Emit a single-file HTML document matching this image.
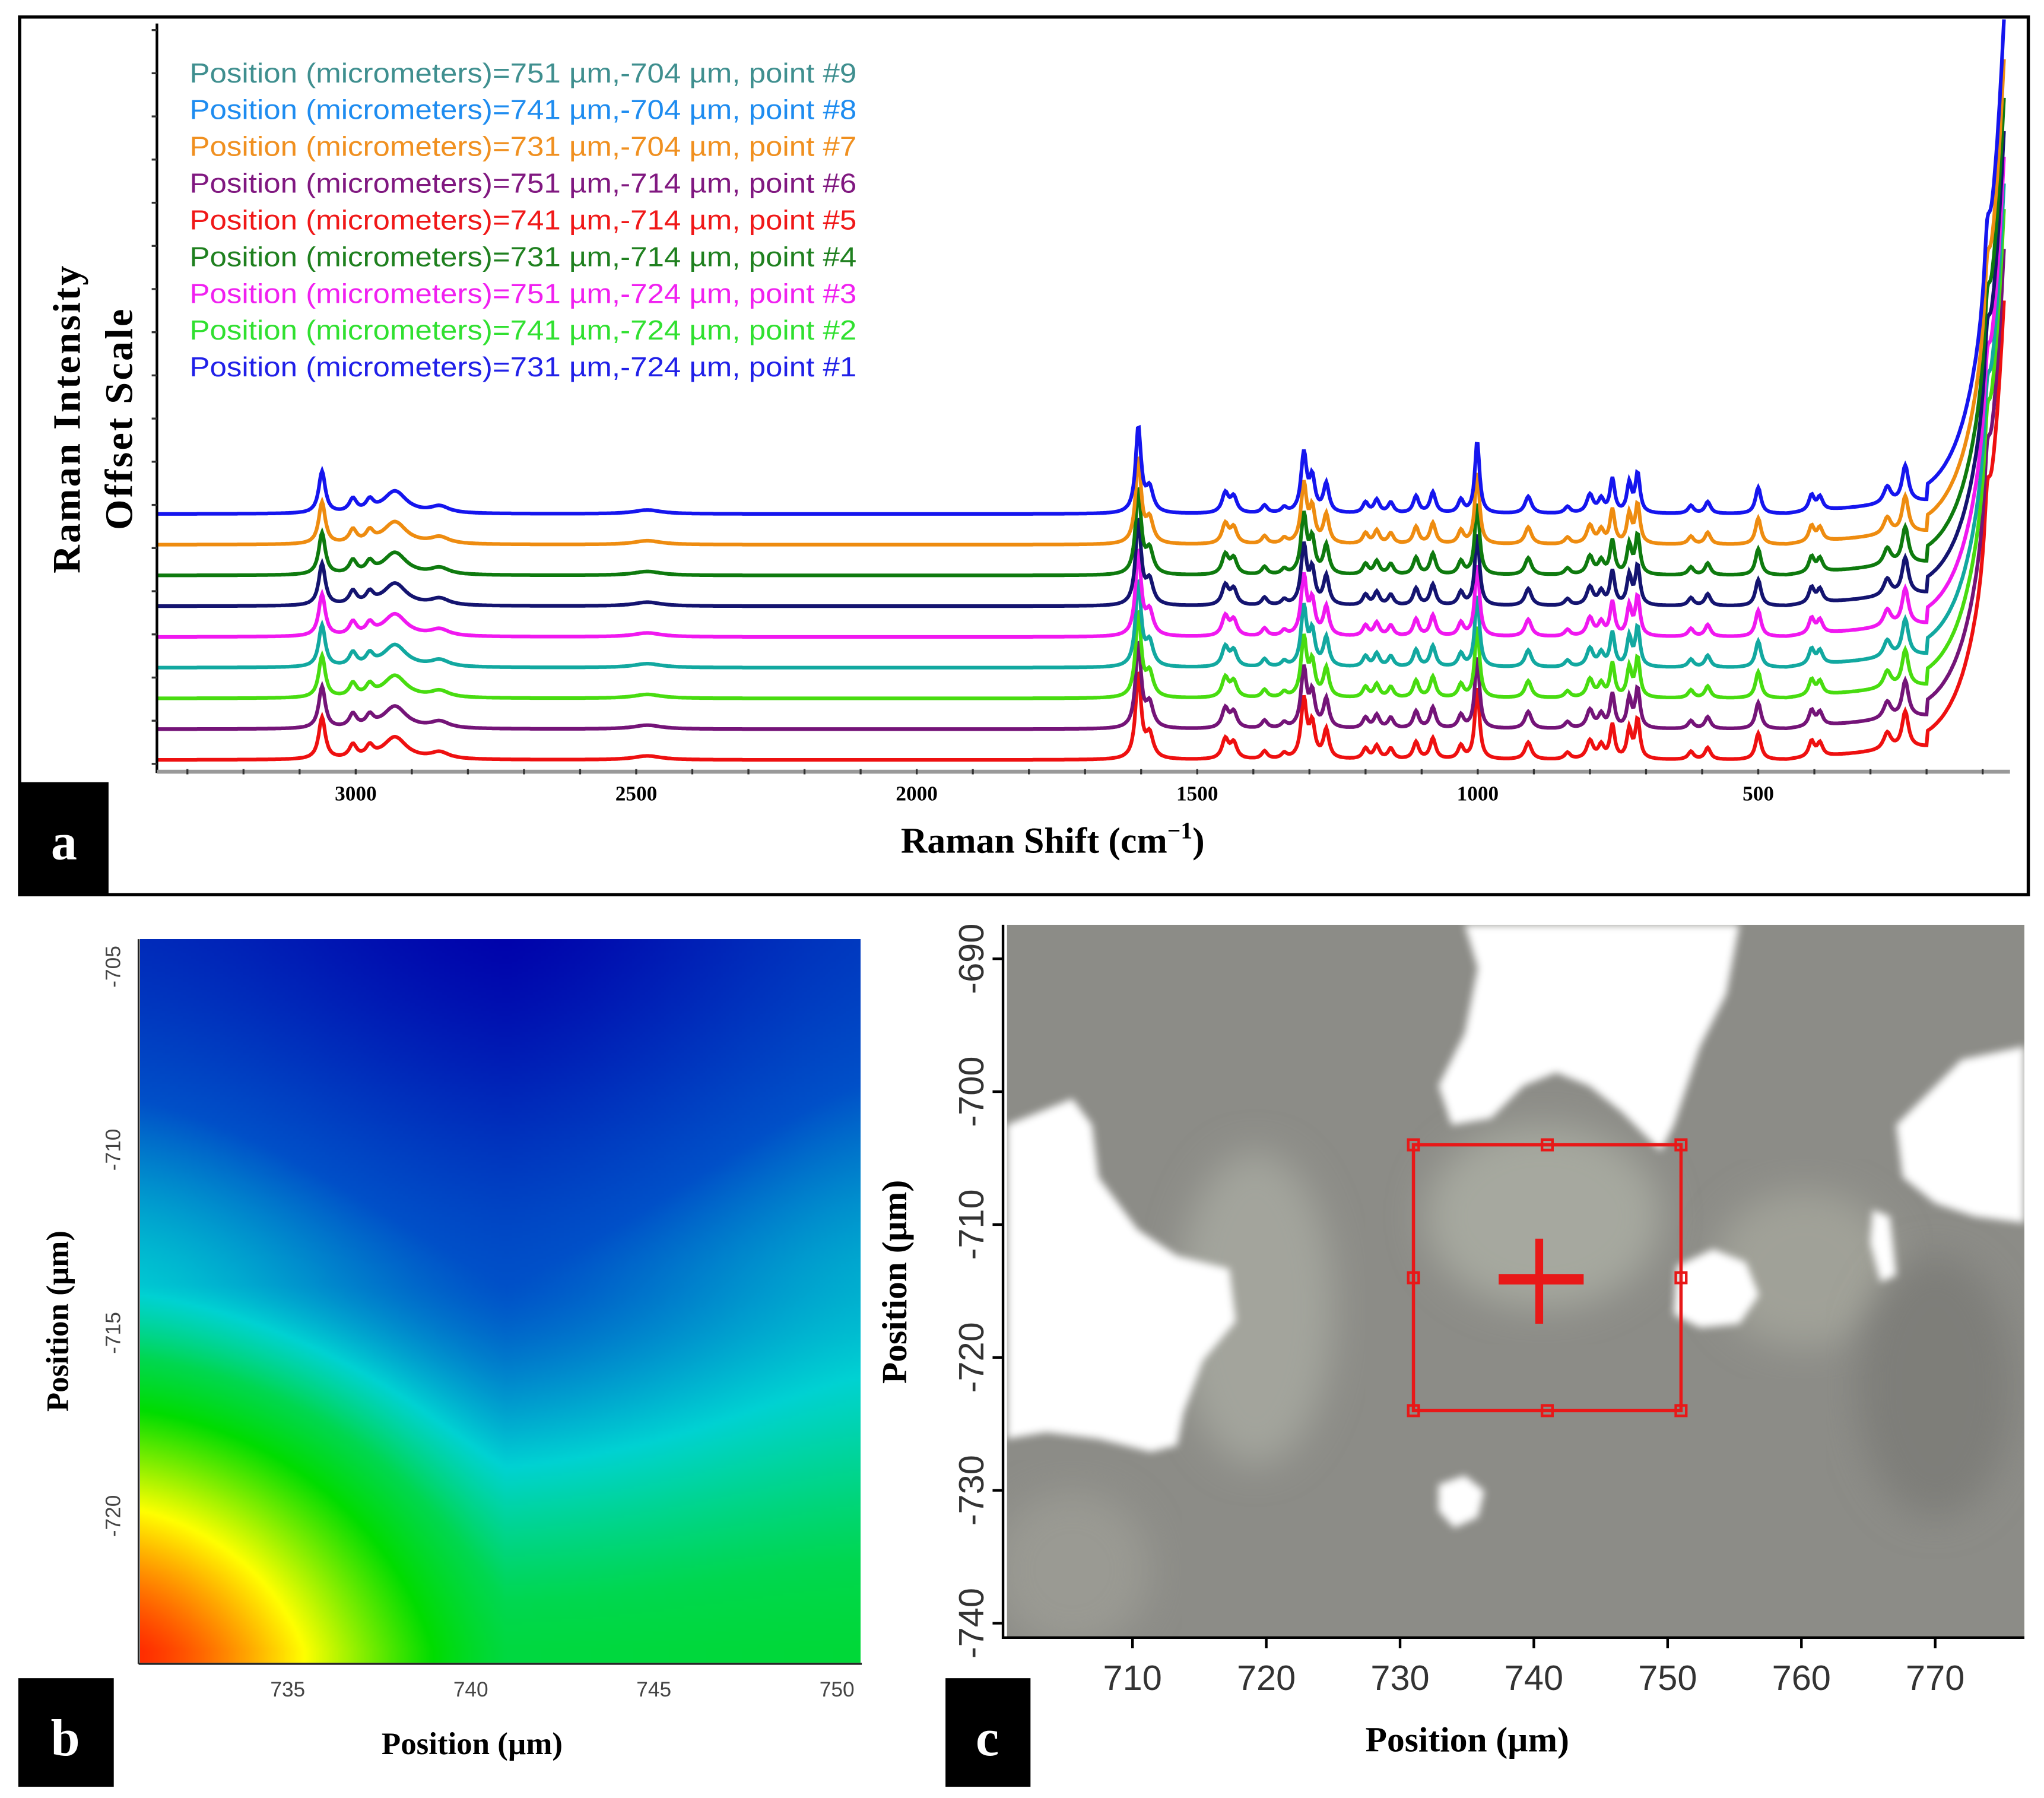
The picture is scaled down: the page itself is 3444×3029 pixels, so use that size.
<!DOCTYPE html>
<html><head><meta charset="utf-8">
<style>
html,body{margin:0;padding:0;background:#fff;overflow:hidden;}
#wrap{position:relative;width:3444px;height:3029px;overflow:hidden;}
svg{position:absolute;left:0;top:0;}
#heat{position:absolute;left:236px;top:1582px;width:1214px;height:1219px;}
</style></head><body>
<div id="wrap">
<svg id="main" width="3444" height="3029" viewBox="0 0 1563 1374.6" preserveAspectRatio="none">
<defs>
<filter id="blur" x="-20%" y="-20%" width="140%" height="140%"><feGaussianBlur stdDeviation="3"/></filter>
<filter id="blur2" x="-20%" y="-20%" width="140%" height="140%"><feGaussianBlur stdDeviation="14"/></filter>
<clipPath id="photoClip"><rect x="770" y="707" width="778" height="545"/></clipPath>
<clipPath id="plotClip"><rect x="120" y="14" width="1430" height="580"/></clipPath>
</defs>
<!-- panel a -->
<rect x="15" y="13" width="1536" height="671" fill="#fff" stroke="#000" stroke-width="2.5"/>
<g id="spectra" clip-path="url(#plotClip)"></g>
<line x1="120" y1="18" x2="120" y2="591" stroke="#000" stroke-width="2"/>
<g id="yticksA"></g>
<line x1="120" y1="590" x2="1537" y2="590" stroke="#999" stroke-width="3"/>
<g id="xticksA" font-family="Liberation Serif, serif" font-weight="bold" font-size="16" text-anchor="middle"></g>
<g id="legend" font-family="Liberation Sans, sans-serif" font-size="21"></g>
<text transform="translate(61,320) rotate(-90)" text-anchor="middle" font-family="Liberation Serif, serif" font-weight="bold" font-size="30" letter-spacing="1.5">Raman Intensity</text>
<text transform="translate(101,320) rotate(-90)" text-anchor="middle" font-family="Liberation Serif, serif" font-weight="bold" font-size="30" letter-spacing="1.5">Offset Scale</text>
<text x="805" y="652" text-anchor="middle" font-family="Liberation Serif, serif" font-weight="bold" font-size="28">Raman Shift (cm<tspan dy="-11" font-size="18">−1</tspan><tspan dy="11">)</tspan></text>
<rect x="14" y="598" width="69" height="86" fill="#000"/>
<text x="49" y="657" text-anchor="middle" fill="#fff" font-family="Liberation Serif, serif" font-weight="bold" font-size="40">a</text>

<!-- panel b -->
<g id="panelB">
<line x1="106" y1="718" x2="106" y2="1272" stroke="#222" stroke-width="1.5"/>
<line x1="106" y1="1272" x2="659" y2="1272" stroke="#222" stroke-width="1.5"/>
<g id="bTicks" font-family="Liberation Sans, sans-serif" font-size="16" fill="#444"></g>
<g stroke="#ee1111" stroke-width="3.5">
<line x1="365" y1="993" x2="402" y2="993"/><line x1="383" y1="973" x2="383" y2="1014"/></g>
<text x="361" y="1341" text-anchor="middle" font-family="Liberation Serif, serif" font-weight="bold" font-size="24">Position (µm)</text>
<text transform="translate(52,1010) rotate(-90)" text-anchor="middle" font-family="Liberation Serif, serif" font-weight="bold" font-size="24">Position (µm)</text>
<rect x="14" y="1283" width="73" height="83" fill="#000"/>
<text x="50" y="1342" text-anchor="middle" fill="#fff" font-family="Liberation Serif, serif" font-weight="bold" font-size="40">b</text>
</g>

<!-- panel c -->
<g>
<g clip-path="url(#photoClip)">
<rect x="770" y="707" width="778" height="545" fill="#8c8c87"/>
<ellipse cx="960" cy="1000" rx="60" ry="120" fill="#a3a49c" filter="url(#blur2)"/>
<ellipse cx="1180" cy="930" rx="90" ry="70" fill="#a6a89f" filter="url(#blur2)"/>
<ellipse cx="1380" cy="970" rx="70" ry="60" fill="#a0a198" filter="url(#blur2)"/>
<ellipse cx="820" cy="1200" rx="60" ry="60" fill="#9a9a93" filter="url(#blur2)"/>
<ellipse cx="1480" cy="1060" rx="60" ry="100" fill="#7e7e79" filter="url(#blur2)"/>
<g fill="#ffffff" filter="url(#blur)">
<path d="M1120,707 L1330,707 L1320,760 L1300,800 L1280,860 L1270,880 L1240,850 L1215,830 L1190,820 L1165,830 L1140,855 L1110,860 L1100,830 L1120,790 L1130,740 Z"/>
<path d="M770,860 L820,840 L835,860 L840,900 L870,940 L900,960 L940,970 L945,1010 L920,1040 L905,1080 L900,1105 L880,1110 L840,1100 L800,1095 L770,1100 Z"/>
<path d="M1548,800 L1500,810 L1470,840 L1450,860 L1455,900 L1480,920 L1510,930 L1548,935 Z"/>
<path d="M1282,968 L1310,955 L1335,965 L1345,990 L1330,1012 L1300,1015 L1280,1005 Z"/>
<path d="M1432,925 L1445,930 L1450,975 L1438,980 L1430,950 Z"/>
<path d="M1100,1135 L1120,1128 L1135,1140 L1130,1160 L1112,1168 L1100,1155 Z"/>
</g>
</g>
<line x1="767" y1="707" x2="767" y2="1253" stroke="#000" stroke-width="2"/>
<line x1="767" y1="1252" x2="1548" y2="1252" stroke="#000" stroke-width="2"/>
<g id="cTicks" font-family="Liberation Sans, sans-serif" font-size="27" fill="#333"></g>
<g id="roi" stroke="#e81818" fill="none" stroke-width="2.5"></g>
<g stroke="#e81818">
<line x1="1146" y1="978" x2="1211" y2="978" stroke-width="8"/>
<line x1="1177" y1="947" x2="1177" y2="1012" stroke-width="6"/></g>
<text x="1122" y="1339" text-anchor="middle" font-family="Liberation Serif, serif" font-weight="bold" font-size="27">Position (µm)</text>
<text transform="translate(693,980) rotate(-90)" text-anchor="middle" font-family="Liberation Serif, serif" font-weight="bold" font-size="27">Position (µm)</text>
<rect x="723" y="1283" width="65" height="83" fill="#000"/>
<text x="755" y="1342" text-anchor="middle" fill="#fff" font-family="Liberation Serif, serif" font-weight="bold" font-size="40">c</text>
</g>
</svg>
<canvas id="heat" width="276" height="277"></canvas>
</div>
<script>
// ---- Panel a data ----
const seriesNames = ["point #1","point #2","point #3","point #4","point #5","point #6","point #7","point #8","point #9"];
const legendLabels = [
 "Position (micrometers)=751 µm,-704 µm, point #9",
 "Position (micrometers)=741 µm,-704 µm, point #8",
 "Position (micrometers)=731 µm,-704 µm, point #7",
 "Position (micrometers)=751 µm,-714 µm, point #6",
 "Position (micrometers)=741 µm,-714 µm, point #5",
 "Position (micrometers)=731 µm,-714 µm, point #4",
 "Position (micrometers)=751 µm,-724 µm, point #3",
 "Position (micrometers)=741 µm,-724 µm, point #2",
 "Position (micrometers)=731 µm,-724 µm, point #1"];
const legendColors = ["#3f8f8f","#1e8cf0","#f09020","#801880","#f01818","#1f801f","#f020f0","#30e030","#2020e8"];
// trace order top -> bottom
const traceColors = ["#1515ee","#ee8c10","#0e7a0e","#141470","#f018f0","#12a8a0","#48dc10","#741478","#ee1010"];
const traceOffsets = [0, 0.5, 1, 1.5, 2, 2.5, 3, 3.5, 4]; // offset units
const riseHeights = [361, 354, 348, 346, 350, 353, 357, 350, 334];
const peakCenters = [3060,3005,2975,2930,2850,2480,1605,1585,1450,1435,1380,1345,1310,1295,1270,1200,1180,1155,1110,1080,1030,1001,910,840,800,780,760,730,715,620,590,500,405,390,270,238,92];
const peakHeights = [32,10,8,17,5,3,65,18,15,12,6,4,45,25,22,8,10,8,13,16,10,55,13,5,14,10,26,22,30,6,9,20,12,10,13,28,40];
const peakWidths =  [7,8,8,25,20,30,6,8,7,7,6,6,6,6,6,6,6,6,6,6,6,5,7,6,7,6,5,5,5,6,6,6,6,6,8,7,6];
const xTickValues = [3000,2500,2000,1500,1000,500];

const NS="http://www.w3.org/2000/svg";
const xS = v => 1130 - (v-1000)*0.429;
const yBase = k => 393 + k*47;
function mk(tag, attrs, parent){const e=document.createElementNS(NS,tag);for(const k in attrs)e.setAttribute(k,attrs[k]);parent.appendChild(e);return e;}

const spectra=document.getElementById('spectra');
for(let s=traceColors.length-1;s>=0;s--){
  const b=yBase(traceOffsets[s]);
  let d="";
  for(let v=3354; v>=62; v-=2){
    let y=0;
    for(let p=0;p<peakCenters.length;p++){
      const dx=(v-peakCenters[p])/peakWidths[p];
      y+=peakHeights[p]/(1+dx*dx);
    }
    if(v<450) y+= (450-v)*0.04;
    if(v<200) y+= riseHeights[s]*Math.exp(-(v-62)/40);
    d+=(d?"L":"M")+xS(v).toFixed(1)+","+(b-y).toFixed(1);
  }
  const p=mk('path',{d:d,fill:'none',stroke:traceColors[s],'stroke-width':2.8},spectra);
  
  
}
const xt=document.getElementById('xticksA');
xTickValues.forEach(v=>{
  const t=mk('text',{x:xS(v),y:612},xt); t.textContent=v;
  
  
});
for(let v=3300; v>=100; v-=100){ mk('line',{x1:xS(v),y1:588,x2:xS(v),y2:592,stroke:'#333','stroke-width':1.5},xt); }
const yt=document.getElementById('yticksA');
for(let y=23;y<590;y+=33){ mk('line',{x1:116,y1:y,x2:120,y2:y,stroke:'#333','stroke-width':1.5},yt); }
const lg=document.getElementById('legend');
legendLabels.forEach((t,i)=>{
  const e=mk('text',{x:145,y:63+i*28.1,fill:legendColors[i],textLength:510,lengthAdjust:'spacingAndGlyphs'},lg); e.textContent=t;
  
  
});

// ---- Panel b data ----
const mapX = [731,741,751];
const mapY = [-704,-714,-724];
const mapValues = [
  [0.10,0.00,0.14],
  [0.30,0.20,0.28],
  [0.95,0.42,0.43]];
const bTicksX=[735,740,745,750], bTicksY=[-705,-710,-715,-720];
const bx = v => 220+(v-735)*28, by = v => 739+(-705-v)*28;
const bt=document.getElementById('bTicks');
bTicksX.forEach(v=>{const t=mk('text',{x:bx(v),y:1297,'text-anchor':'middle'},bt);t.textContent=v;
 });
bTicksY.forEach(v=>{const t=mk('text',{transform:`translate(92,${by(v)}) rotate(-90)`,'text-anchor':'middle'},bt);t.textContent=v;
 });

const stops=[[0,[0,0,170]],[0.2,[0,80,200]],[0.31,[0,210,210]],[0.4,[0,215,80]],[0.5,[0,220,0]],[0.72,[255,255,0]],[0.86,[255,128,0]],[1,[255,0,0]]];
function cmap(v){v=Math.max(0,Math.min(1,v));for(let i=1;i<stops.length;i++){if(v<=stops[i][0]){const a=stops[i-1],b=stops[i];const t=(v-a[0])/(b[0]-a[0]);return a[1].map((c,k)=>Math.round(c+(b[1][k]-c)*t));}}return stops[stops.length-1][1];}
function sm(t){return t*t*(3-2*t);}
const cv=document.getElementById('heat'),ctx=cv.getContext('2d'),W=cv.width,H=cv.height,img=ctx.createImageData(W,H);
for(let j=0;j<H;j++)for(let i=0;i<W;i++){
  const xv=731+ (i/(W-1))*19.7, yv=-704.6-(j/(H-1))*19.7;
  let fx=(xv-mapX[0])/10, fy=(mapY[0]-yv)/10;
  let ci=Math.min(1,Math.max(0,Math.floor(fx))), ri=Math.min(1,Math.max(0,Math.floor(fy)));
  let tx=Math.min(1,Math.max(0,fx-ci)), ty=Math.min(1,Math.max(0,fy-ri));
  tx=sm(tx)*0.5+tx*0.5; ty=sm(ty)*0.5+ty*0.5;
  const v=(mapValues[ri][ci]*(1-tx)+mapValues[ri][ci+1]*tx)*(1-ty)+(mapValues[ri+1][ci]*(1-tx)+mapValues[ri+1][ci+1]*tx)*ty;
  const c=cmap(v),o=(j*W+i)*4;img.data[o]=c[0];img.data[o+1]=c[1];img.data[o+2]=c[2];img.data[o+3]=255;
}
ctx.putImageData(img,0,0);

// ---- Panel c ----
const cTicksX=[710,720,730,740,750,760,770], cTicksY=[-690,-700,-710,-720,-730,-740];
const cxS = v => 866+(v-710)*10.23, cyS = v => 733+(-690-v)*10.16;
const ct=document.getElementById('cTicks');
cTicksX.forEach(v=>{mk('line',{x1:cxS(v),y1:1252,x2:cxS(v),y2:1260,stroke:'#000','stroke-width':2},ct);
 const t=mk('text',{x:cxS(v),y:1292,'text-anchor':'middle'},ct);t.textContent=v;
 });
cTicksY.forEach(v=>{mk('line',{x1:759,y1:cyS(v),x2:767,y2:cyS(v),stroke:'#000','stroke-width':2},ct);
 const t=mk('text',{transform:`translate(752,${cyS(v)}) rotate(-90)`,'text-anchor':'middle'},ct);t.textContent=v;
 });
const roi=document.getElementById('roi');
mk('rect',{x:cxS(731),y:cyS(-704),width:cxS(751)-cxS(731),height:cyS(-724)-cyS(-704)},roi);
[731,741,751].forEach(a=>[-704,-714,-724].forEach(b=>{ if(a===741&&b===-714)return;
 mk('rect',{x:cxS(a)-4,y:cyS(b)-4,width:8,height:8,'stroke-width':2},roi);}));
</script>
</body></html>
